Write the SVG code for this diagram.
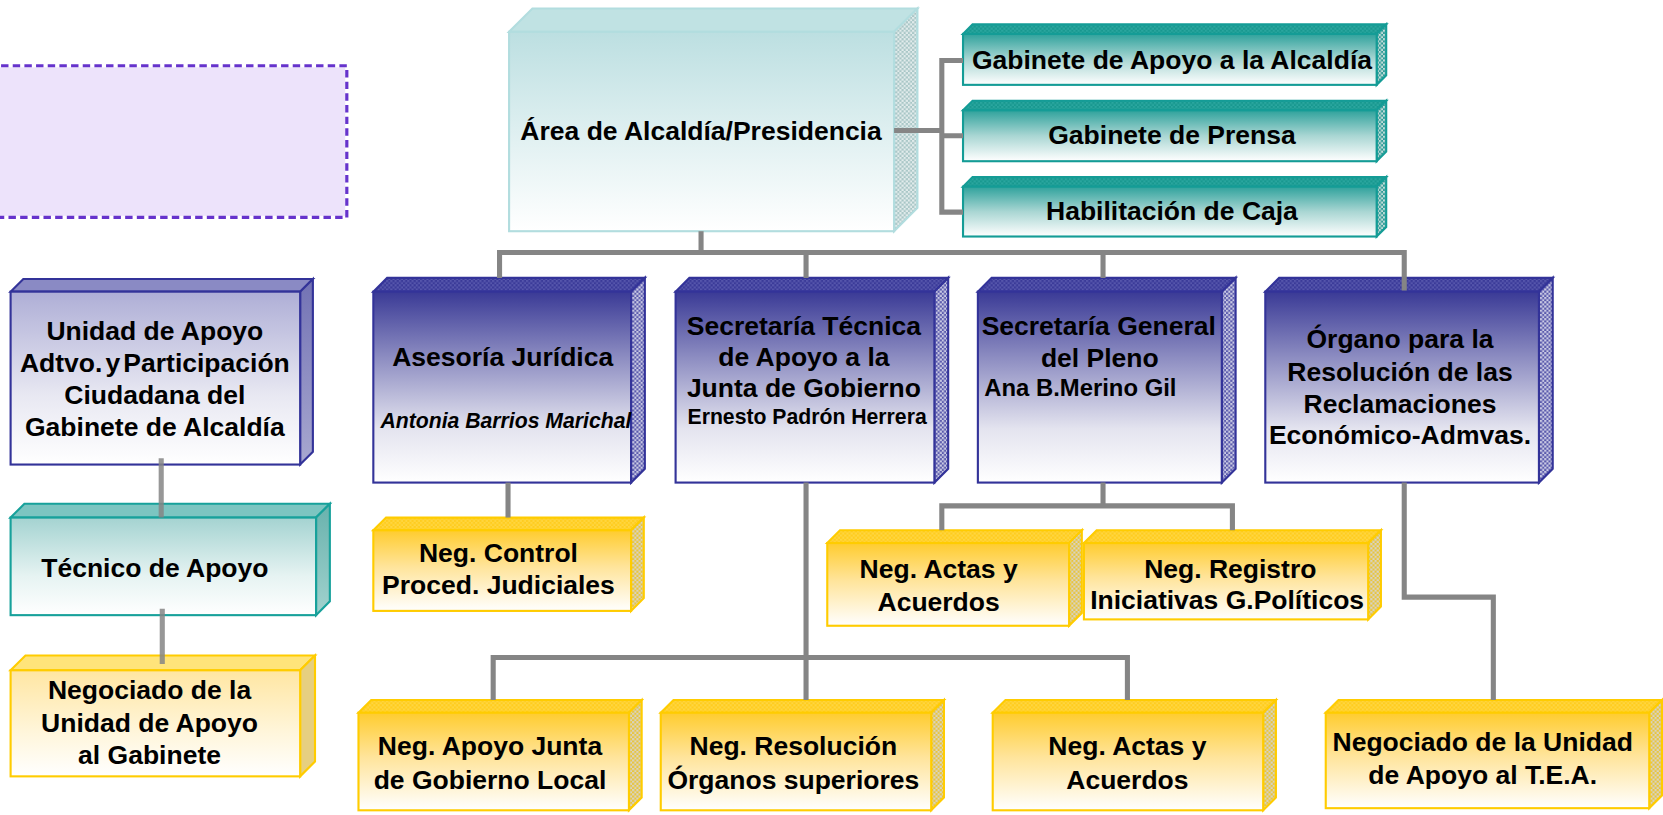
<svg xmlns="http://www.w3.org/2000/svg" width="1663" height="815" viewBox="0 0 1663 815">
<defs>
<linearGradient id="gB" x1="0" y1="0" x2="0" y2="1"><stop offset="0" stop-color="#3A3A96"/><stop offset="0.35" stop-color="#8E8EC2"/><stop offset="0.72" stop-color="#E4E4EF"/><stop offset="1" stop-color="#FFFFFF"/></linearGradient>
<linearGradient id="gBL" x1="0" y1="0" x2="0" y2="1"><stop offset="0" stop-color="#AEAED6"/><stop offset="0.6" stop-color="#E8E8F2"/><stop offset="1" stop-color="#FFFFFF"/></linearGradient>
<linearGradient id="gBLs" x1="0" y1="0" x2="0" y2="1"><stop offset="0" stop-color="#7272B4"/><stop offset="1" stop-color="#A8A8D0"/></linearGradient>
<linearGradient id="gY" x1="0" y1="0" x2="0" y2="1"><stop offset="0" stop-color="#FFCC2E"/><stop offset="0.45" stop-color="#FFE49A"/><stop offset="1" stop-color="#FFFFFF"/></linearGradient>
<linearGradient id="gYL" x1="0" y1="0" x2="0" y2="1"><stop offset="0" stop-color="#FFE6A2"/><stop offset="0.6" stop-color="#FFF6DC"/><stop offset="1" stop-color="#FFFFFF"/></linearGradient>
<linearGradient id="gT" x1="0" y1="0" x2="0" y2="1"><stop offset="0" stop-color="#2FA29C"/><stop offset="0.5" stop-color="#A9D6D3"/><stop offset="1" stop-color="#FFFFFF"/></linearGradient>
<linearGradient id="gTL" x1="0" y1="0" x2="0" y2="1"><stop offset="0" stop-color="#A4D3D1"/><stop offset="0.6" stop-color="#E6F3F2"/><stop offset="1" stop-color="#FFFFFF"/></linearGradient>
<linearGradient id="gTLs" x1="0" y1="0" x2="0" y2="1"><stop offset="0" stop-color="#68B2AD"/><stop offset="1" stop-color="#A2D2CE"/></linearGradient>
<linearGradient id="gM" x1="0" y1="0" x2="0" y2="1"><stop offset="0" stop-color="#BCDFE1"/><stop offset="0.55" stop-color="#E2F1F2"/><stop offset="1" stop-color="#FFFFFF"/></linearGradient>
<pattern id="pBs" width="4" height="4" patternUnits="userSpaceOnUse"><rect width="4" height="4" fill="#5A5AAC"/><rect width="2" height="2" fill="#CACAE4"/><rect x="2" y="2" width="2" height="2" fill="#CACAE4"/></pattern>
<pattern id="pBt" width="4" height="4" patternUnits="userSpaceOnUse"><rect width="4" height="4" fill="#3A3A98"/><rect width="2" height="2" fill="#5656AC"/><rect x="2" y="2" width="2" height="2" fill="#5656AC"/></pattern>
<pattern id="pYs" width="4" height="4" patternUnits="userSpaceOnUse"><rect width="4" height="4" fill="#E8C43C"/><rect width="2" height="2" fill="#D8D4C4"/><rect x="2" y="2" width="2" height="2" fill="#D8D4C4"/></pattern>
<pattern id="pYt" width="4" height="4" patternUnits="userSpaceOnUse"><rect width="4" height="4" fill="#FFCC1E"/><rect width="2" height="2" fill="#FFD640"/><rect x="2" y="2" width="2" height="2" fill="#FFD640"/></pattern>
<pattern id="pTs" width="4" height="4" patternUnits="userSpaceOnUse"><rect width="4" height="4" fill="#2E9C96"/><rect width="2" height="2" fill="#C4DCDA"/><rect x="2" y="2" width="2" height="2" fill="#C4DCDA"/></pattern>
<pattern id="pTt" width="4" height="4" patternUnits="userSpaceOnUse"><rect width="4" height="4" fill="#18988F"/><rect width="2" height="2" fill="#2AA69F"/><rect x="2" y="2" width="2" height="2" fill="#2AA69F"/></pattern>
<pattern id="pMs" width="4" height="4" patternUnits="userSpaceOnUse"><rect width="4" height="4" fill="#A8C6C6"/><rect width="2" height="2" fill="#E2ECEC"/><rect x="2" y="2" width="2" height="2" fill="#E2ECEC"/></pattern>
<style>
.t{font-family:"Liberation Sans",Arial,Helvetica,sans-serif;font-weight:bold;font-size:25px;fill:#000;text-anchor:middle}
.n{font-size:20px}
.s{text-anchor:start}
.i{font-style:italic}
.bF{fill:url(#gB);stroke:#333399;stroke-width:2}
.bS{fill:url(#pBs);stroke:#333399;stroke-width:2}
.bT{fill:url(#pBt);stroke:#333399;stroke-width:2}
.yF{fill:url(#gY);stroke:#FFCC00;stroke-width:2}
.yS{fill:url(#pYs);stroke:#FFCC00;stroke-width:2}
.yT{fill:url(#pYt);stroke:#FFCC00;stroke-width:2}
.tF{fill:url(#gT);stroke:#149C96;stroke-width:2}
.tS{fill:url(#pTs);stroke:#149C96;stroke-width:2}
.tT{fill:url(#pTt);stroke:#149C96;stroke-width:2}
.c{fill:none;stroke:#858585;stroke-width:4.8;stroke-linejoin:miter}
</style>
</defs>
<rect width="1663" height="815" fill="#FFFFFF"/>
<g transform="scale(1.0606)">

<g id="note">
<rect x="-10" y="62" width="337" height="143" fill="#EDE3FB" stroke="#FFFFFF" stroke-width="3"/>
<rect x="-10" y="62" width="337" height="143" fill="none" stroke="#6633CC" stroke-width="3" stroke-dasharray="7 4"/>
</g>

<g id="n-alcaldia">
<polygon points="480,30 502,8 865,8 843,30" fill="#C0E2E3" stroke="#B2DDDF" stroke-width="2"/>
<polygon points="843,30 865,8 865,196 843,218" fill="url(#pMs)" stroke="#B2DDDF" stroke-width="2"/>
<rect x="480" y="30" width="363" height="188" fill="url(#gM)" stroke="#B2DDDF" stroke-width="2"/>
<text class="t" x="661" y="132">Área de Alcaldía/Presidencia</text>
</g>

<g id="n-gab-apoyo">
<polygon points="908,32 917,23 1307,23 1298,32" class="tT"/>
<polygon points="1298,32 1307,23 1307,71 1298,80" class="tS"/>
<rect x="908" y="32" width="390" height="48" class="tF"/>
<text class="t" x="1105" y="65">Gabinete de Apoyo a la Alcaldía</text>
</g>

<g id="n-gab-prensa">
<polygon points="908,104 917,95 1307,95 1298,104" class="tT"/>
<polygon points="1298,104 1307,95 1307,143 1298,152" class="tS"/>
<rect x="908" y="104" width="390" height="48" class="tF"/>
<text class="t" x="1105" y="136">Gabinete de Prensa</text>
</g>

<g id="n-caja">
<polygon points="908,176 917,167 1307,167 1298,176" class="tT"/>
<polygon points="1298,176 1307,167 1307,214 1298,223" class="tS"/>
<rect x="908" y="176" width="390" height="47" class="tF"/>
<text class="t" x="1105" y="207">Habilitación de Caja</text>
</g>

<g id="n-unidad">
<polygon points="10,275 22,263 295,263 283,275" fill="#8A8AC4" stroke="#333399" stroke-width="2"/>
<polygon points="283,275 295,263 295,426 283,438" fill="url(#gBLs)" stroke="#333399" stroke-width="2"/>
<rect x="10" y="275" width="273" height="163" fill="url(#gBL)" stroke="#333399" stroke-width="2"/>
<text class="t" x="146" y="321">Unidad de Apoyo</text>
<text class="t" x="146" y="351" style="word-spacing:-4px">Adtvo. y Participación</text>
<text class="t" x="146" y="381">Ciudadana del</text>
<text class="t" x="146" y="411">Gabinete de Alcaldía</text>
</g>

<g id="n-tecnico">
<polygon points="10,488 23,475 311,475 298,488" fill="#7CC5C1" stroke="#17A19B" stroke-width="2"/>
<polygon points="298,488 311,475 311,567 298,580" fill="url(#gTLs)" stroke="#17A19B" stroke-width="2"/>
<rect x="10" y="488" width="288" height="92" fill="url(#gTL)" stroke="#17A19B" stroke-width="2"/>
<text class="t" x="146" y="544">Técnico de Apoyo</text>
</g>

<g id="n-neg-gabinete">
<polygon points="10,632 24,618 297,618 283,632" fill="#FFE47A" stroke="#FFCC00" stroke-width="2"/>
<polygon points="283,632 297,618 297,718 283,732" fill="#E6CF80" stroke="#FFCC00" stroke-width="2"/>
<rect x="10" y="632" width="273" height="100" fill="url(#gYL)" stroke="#FFCC00" stroke-width="2"/>
<text class="t" x="141" y="659">Negociado de la</text>
<text class="t" x="141" y="690">Unidad de Apoyo</text>
<text class="t" x="141" y="720">al Gabinete</text>
</g>

<g id="n-asesoria">
<polygon points="352,275 365,262 608,262 595,275" class="bT"/>
<polygon points="595,275 608,262 608,442 595,455" class="bS"/>
<rect x="352" y="275" width="243" height="180" class="bF"/>
<text class="t" x="474" y="345">Asesoría Jurídica</text>
<text class="t n i" x="477" y="404">Antonia Barrios Marichal</text>
</g>

<g id="n-sec-tecnica">
<polygon points="637,275 650,262 894,262 881,275" class="bT"/>
<polygon points="881,275 894,262 894,442 881,455" class="bS"/>
<rect x="637" y="275" width="244" height="180" class="bF"/>
<text class="t" x="758" y="316">Secretaría Técnica</text>
<text class="t" x="758" y="345">de Apoyo a la</text>
<text class="t" x="758" y="374">Junta de Gobierno</text>
<text class="t n" x="761" y="400">Ernesto Padrón Herrera</text>
</g>

<g id="n-sec-general">
<polygon points="922,275 935,262 1165,262 1152,275" class="bT"/>
<polygon points="1152,275 1165,262 1165,442 1152,455" class="bS"/>
<rect x="922" y="275" width="230" height="180" class="bF"/>
<text class="t" x="1036" y="316">Secretaría General</text>
<text class="t" x="1037" y="346">del Pleno</text>
<text class="t s" x="928" y="373" style="font-size:22.5px">Ana B.Merino Gil</text>
</g>

<g id="n-organo">
<polygon points="1193,275 1206,262 1464,262 1451,275" class="bT"/>
<polygon points="1451,275 1464,262 1464,442 1451,455" class="bS"/>
<rect x="1193" y="275" width="258" height="180" class="bF"/>
<text class="t" x="1320" y="328">Órgano para la</text>
<text class="t" x="1320" y="359">Resolución de las</text>
<text class="t" x="1320" y="389">Reclamaciones</text>
<text class="t" x="1320" y="419">Económico-Admvas.</text>
</g>

<g id="n-neg-control">
<polygon points="352,500 364,488 607,488 595,500" class="yT"/>
<polygon points="595,500 607,488 607,564 595,576" class="yS"/>
<rect x="352" y="500" width="243" height="76" class="yF"/>
<text class="t" x="470" y="530">Neg. Control</text>
<text class="t" x="470" y="560">Proced. Judiciales</text>
</g>

<g id="n-neg-actas-1">
<polygon points="780,512 792,500 1020,500 1008,512" class="yT"/>
<polygon points="1008,512 1020,500 1020,578 1008,590" class="yS"/>
<rect x="780" y="512" width="228" height="78" class="yF"/>
<text class="t" x="885" y="545">Neg. Actas y</text>
<text class="t" x="885" y="576">Acuerdos</text>
</g>

<g id="n-neg-registro">
<polygon points="1022,512 1034,500 1302,500 1290,512" class="yT"/>
<polygon points="1290,512 1302,500 1302,572 1290,584" class="yS"/>
<rect x="1022" y="512" width="268" height="72" class="yF"/>
<text class="t" x="1160" y="545">Neg. Registro</text>
<text class="t" x="1157" y="574">Iniciativas G.Políticos</text>
</g>

<g id="n-neg-apoyo-junta">
<polygon points="338,672 350,660 605,660 593,672" class="yT"/>
<polygon points="593,672 605,660 605,752 593,764" class="yS"/>
<rect x="338" y="672" width="255" height="92" class="yF"/>
<text class="t" x="462" y="712">Neg. Apoyo Junta</text>
<text class="t" x="462" y="744">de Gobierno Local</text>
</g>

<g id="n-neg-resolucion">
<polygon points="623,672 635,660 890,660 878,672" class="yT"/>
<polygon points="878,672 890,660 890,752 878,764" class="yS"/>
<rect x="623" y="672" width="255" height="92" class="yF"/>
<text class="t" x="748" y="712">Neg. Resolución</text>
<text class="t" x="748" y="744">Órganos superiores</text>
</g>

<g id="n-neg-actas-2">
<polygon points="936,672 948,660 1203,660 1191,672" class="yT"/>
<polygon points="1191,672 1203,660 1203,752 1191,764" class="yS"/>
<rect x="936" y="672" width="255" height="92" class="yF"/>
<text class="t" x="1063" y="712">Neg. Actas y</text>
<text class="t" x="1063" y="744">Acuerdos</text>
</g>

<g id="n-neg-tea">
<polygon points="1250,672 1262,660 1567,660 1555,672" class="yT"/>
<polygon points="1555,672 1567,660 1567,750 1555,762" class="yS"/>
<rect x="1250" y="672" width="305" height="90" class="yF"/>
<text class="t" x="1398" y="708">Negociado de la Unidad</text>
<text class="t" x="1398" y="739">de Apoyo al T.E.A.</text>
</g>

<g id="connectors">
<path class="c" d="M843 123 H888 M908 57 H888 V200 H908 M888 128 H908"/>
<path class="c" d="M661 218 V238"/>
<path class="c" d="M471 262 V238 H1324 V274 M760 238 V262 M1040 238 V262"/>
<path class="c" d="M479 455 V488"/>
<path class="c" d="M760 455 V620 M465 660 V620 H1063 V660 M760 620 V660"/>
<path class="c" d="M1040 455 V477 M888 500 V477 H1162 V500"/>
<path class="c" d="M1324 455 V563 H1408 V660"/>
<path class="c" d="M152 432 V488 M153 574 V626" stroke-opacity="0.85"/>
</g>
</g>
</svg>
